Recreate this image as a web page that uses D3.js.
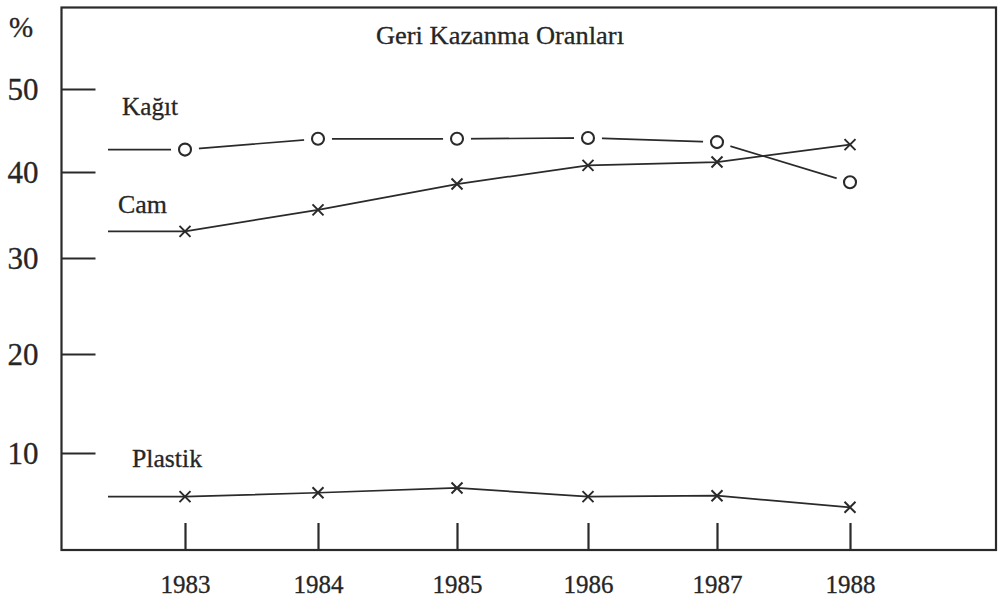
<!DOCTYPE html>
<html>
<head>
<meta charset="utf-8">
<script src="https://cdn.jsdelivr.net/npm/d3@7"></script>
<style>
  html, body { margin: 0; padding: 0; background: #ffffff; }
  svg { display: block; }
  text { font-family: "Liberation Serif", "Times New Roman", serif; fill: #262626; stroke: #262626; stroke-width: 0.3px; }
</style>
</head>
<body>
<svg id="chart" width="1000" height="599"></svg>
<script>
// ---- data ----
const years = [1983, 1984, 1985, 1986, 1987, 1988];
const kagit = [42.7, 44.0, 44.0, 44.1, 43.6, 38.8];
const cam = [33.1, 35.6, 38.6, 40.8, 41.2, 43.3];
const plastik = [5.5, 5.9, 6.4, 5.5, 5.6, 4.4];
const yTicks = [10, 20, 30, 40, 50];
const title = "Geri Kazanma Oranları";
const unitLabel = "%";
const seriesNames = ["Kağıt", "Cam", "Plastik"];

// ---- layout ----
const svg = d3.select("#chart");
const frame = { left: 61.5, top: 7.5, right: 996, bottom: 550 };
const ink = "#2a2a2a";

// hand-drawn scan: axis spacing is slightly uneven, so use piecewise linear scales
const x = d3.scaleLinear()
  .domain(years)
  .range([185, 318, 457, 588, 717, 850]);
const y = d3.scaleLinear()
  .domain([0, 10, 20, 30, 40, 50])
  .range([550, 453, 354, 258, 172, 89]);

// frame
svg.append("rect")
  .attr("x", frame.left).attr("y", frame.top)
  .attr("width", frame.right - frame.left)
  .attr("height", frame.bottom - frame.top)
  .attr("fill", "none").attr("stroke", ink).attr("stroke-width", 2.2);

// y axis: ticks inward, labels outside
const yAxis = svg.append("g")
  .attr("transform", `translate(${frame.left},0)`)
  .call(d3.axisLeft(y).tickValues(yTicks).tickSizeInner(-34).tickSizeOuter(0).tickPadding(23));
yAxis.select(".domain").remove();
yAxis.selectAll(".tick line").attr("stroke", ink).attr("stroke-width", 2.2);
yAxis.selectAll(".tick text")
  .attr("font-family", "Liberation Serif, serif")
  .attr("font-size", 31).attr("fill", "#262626")
  .attr("dy", "0.34em");

// x axis: ticks upward, labels below
const xAxis = svg.append("g")
  .attr("transform", `translate(0,${frame.bottom})`)
  .call(d3.axisBottom(x).tickValues(years).tickFormat(d3.format("d"))
    .tickSizeInner(-27).tickSizeOuter(0).tickPadding(25));
xAxis.select(".domain").remove();
xAxis.selectAll(".tick line").attr("stroke", ink).attr("stroke-width", 2.2);
xAxis.selectAll(".tick text")
  .attr("font-family", "Liberation Serif, serif")
  .attr("font-size", 25).attr("fill", "#262626");

// % unit
svg.append("text").attr("x", 21).attr("y", 37)
  .attr("text-anchor", "middle").attr("font-size", 29).text(unitLabel);

// title
svg.append("text").attr("x", 376).attr("y", 44)
  .attr("font-size", 25).attr("textLength", 248).attr("lengthAdjust", "spacingAndGlyphs")
  .text(title);

// series
const leadStart = 108;
const series = [
  { name: seriesNames[0], values: kagit, marker: "circle", label: [122, 115, 56] },
  { name: seriesNames[1], values: cam, marker: "cross", label: [118, 213, 49] },
  { name: seriesNames[2], values: plastik, marker: "cross", label: [132, 467, 70] }
];
const line = d3.line().x(d => x(d.year)).y(d => y(d.value));

series.forEach(s => {
  const pts = years.map((yr, i) => ({ year: yr, value: s.values[i] }));
  const g = svg.append("g");
  // lead-in stroke
  g.append("line")
    .attr("x1", leadStart).attr("x2", x(pts[0].year))
    .attr("y1", y(pts[0].value)).attr("y2", y(pts[0].value))
    .attr("stroke", ink).attr("stroke-width", 1.7);
  g.append("path").datum(pts).attr("d", line)
    .attr("fill", "none").attr("stroke", ink).attr("stroke-width", 1.7);
  if (s.marker === "circle") {
    g.selectAll("circle.halo").data(pts).join("circle")
      .attr("class", "halo")
      .attr("cx", d => x(d.year)).attr("cy", d => y(d.value)).attr("r", 14)
      .attr("fill", "#ffffff").attr("stroke", "none");
    g.selectAll("circle.mk").data(pts).join("circle")
      .attr("class", "mk")
      .attr("cx", d => x(d.year)).attr("cy", d => y(d.value)).attr("r", 6)
      .attr("fill", "none").attr("stroke", ink).attr("stroke-width", 2.1);
  } else {
    const h = 5.5;
    g.selectAll("path.mk").data(pts).join("path")
      .attr("class", "mk")
      .attr("d", d => {
        const cx = x(d.year), cy = y(d.value);
        return `M${cx - h},${cy - h}L${cx + h},${cy + h}M${cx - h},${cy + h}L${cx + h},${cy - h}`;
      })
      .attr("fill", "none").attr("stroke", ink).attr("stroke-width", 2);
  }
  svg.append("text").attr("x", s.label[0]).attr("y", s.label[1])
    .attr("font-size", 25).attr("textLength", s.label[2]).attr("lengthAdjust", "spacingAndGlyphs")
    .text(s.name);
});
</script>
</body>
</html>
